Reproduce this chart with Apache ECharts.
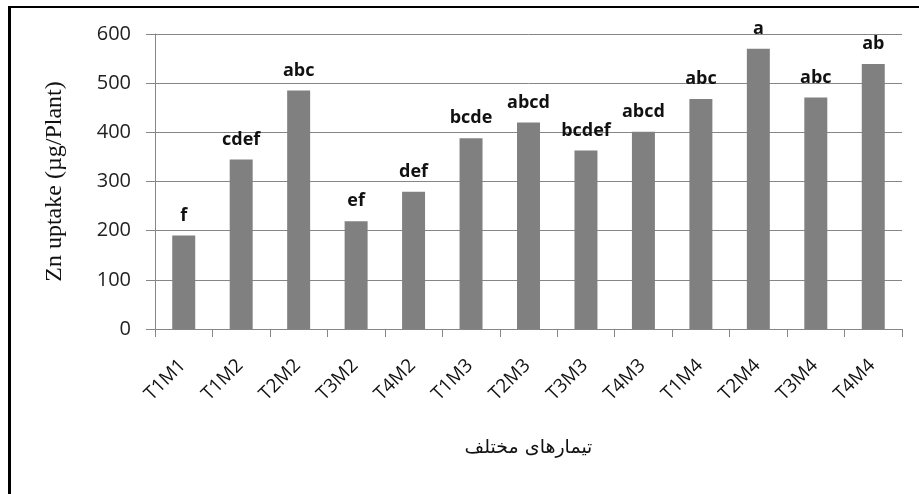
<!DOCTYPE html>
<html>
<head>
<meta charset="utf-8">
<script src="https://cdn.jsdelivr.net/npm/echarts@6/dist/echarts.min.js"></script>
<style>
  html, body { margin: 0; padding: 0; background: #fff; }
  #wrap { position: relative; width: 919px; height: 494px; }
  #barChart { width: 919px; height: 494px; }
  #frame {
    position: absolute; left: 8px; top: 6px; right: 0; bottom: 0;
    border-left: 3px solid #000; border-top: 2px solid #000;
    pointer-events: none;
  }
</style>
</head>
<body>
<div id="wrap">
  <div id="barChart"></div>
  <div id="frame"></div>
</div>
<script>
// treatments
const categories = ['T1M1', 'T1M2', 'T2M2', 'T3M2', 'T4M2', 'T1M3', 'T2M3', 'T3M3', 'T4M3', 'T1M4', 'T2M4', 'T3M4', 'T4M4']
// Zn uptake (µg/Plant)
const znUptake = [190, 345, 485, 219, 279, 388, 420, 363, 401, 468, 570, 471, 539]
// mean comparison letters
const groupLetters = ['f', 'cdef', 'abc', 'ef', 'def', 'bcde', 'abcd', 'bcdef', 'abcd', 'abc', 'a', 'abc', 'ab']
const yMin = 0
const yMax = 600
const yStep = 100

var myChart = echarts.init(document.getElementById('barChart'))

const option = {
  animation: false,
  grid: { left: 155, right: 17, top: 34, bottom: 165 },
  xAxis: {
    type: 'category',
    data: categories,
    axisLine: { show: true, lineStyle: { color: '#868686', width: 1 } },
    axisTick: { show: true, length: 8, lineStyle: { color: '#868686' } },
    axisLabel: {
      rotate: 45,
      margin: 19,
      align: 'right',
      verticalAlign: 'top',
      padding: [0, 11, 0, 0],
      color: '#111',
      fontFamily: 'Open Sans',
      fontSize: 19
    },
    name: 'تیمارهای مختلف',
    nameLocation: 'middle',
    nameGap: 110,
    nameTextStyle: { fontFamily: 'DejaVu Sans', fontSize: 19, color: '#111' }
  },
  yAxis: {
    type: 'value',
    min: yMin,
    max: yMax,
    interval: yStep,
    axisLine: { show: true, lineStyle: { color: '#868686', width: 1 } },
    axisTick: { show: true, length: 9, lineStyle: { color: '#868686' } },
    splitLine: { show: true, lineStyle: { color: '#868686', width: 1 } },
    axisLabel: { margin: 24, color: '#222', fontFamily: 'Open Sans', fontSize: 20 },
    name: 'Zn uptake (µg/Plant)',
    nameLocation: 'middle',
    nameGap: 88,
    nameTextStyle: { fontFamily: 'Liberation Serif', fontSize: 24, color: '#111' }
  },
  series: [
    {
      type: 'bar',
      data: znUptake,
      barWidth: '40%',
      itemStyle: { color: '#808080' },
      label: {
        show: true,
        position: 'top',
        distance: 11,
        color: '#111',
        fontFamily: 'Open Sans',
        fontWeight: 'bold',
        fontSize: 18,
        formatter: function (p) {
          return groupLetters[p.dataIndex]
        }
      }
    }
  ]
}

myChart.setOption(option)
</script>
</body>
</html>
